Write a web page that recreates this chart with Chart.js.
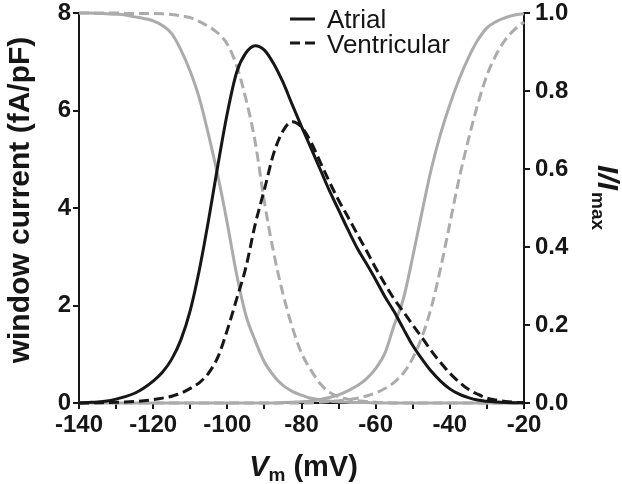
<!DOCTYPE html>
<html>
<head>
<meta charset="utf-8">
<script src="https://cdn.jsdelivr.net/npm/chart.js@4.4.1/dist/chart.umd.min.js"></script>
<style>
  html, body { margin: 0; padding: 0; background: #fff; }
  #wrap { width: 622px; height: 484px; }
</style>
</head>
<body>
<div id="wrap"><canvas id="windowChart"></canvas></div>
<script>
// membrane potential (mV)
const voltage = [
  -140, -137.5, -135, -132.5, -130, -127.5, -125, -122.5, -120, -117.5,
  -115, -112.5, -110, -107.5, -105, -102.5, -100, -97.5, -95, -92.5,
  -90, -87.5, -85, -82.5, -80, -77.5, -75, -72.5, -70, -67.5,
  -65, -62.5, -60, -57.5, -55, -52.5, -50, -47.5, -45, -42.5,
  -40, -37.5, -35, -32.5, -30, -27.5, -25, -22.5, -20
];

// window current (fA/pF), left axis
const atrialWindow = [
  0.00, 0.01, 0.02, 0.04, 0.08, 0.13, 0.20, 0.31, 0.45, 0.63,
  0.90, 1.30, 1.90, 2.75, 3.78, 4.90, 5.95, 6.78, 7.18, 7.33,
  7.24, 6.96, 6.58, 6.12, 5.67, 5.24, 4.80, 4.36, 3.96, 3.56,
  3.18, 2.86, 2.53, 2.18, 1.87, 1.52, 1.18, 0.90, 0.65, 0.45,
  0.29, 0.18, 0.11, 0.06, 0.035, 0.02, 0.01, 0.005, 0.002
];
const ventricularWindow = [
  0.00, 0.00, 0.005, 0.01, 0.015, 0.02, 0.03, 0.045, 0.07, 0.10,
  0.14, 0.20, 0.30, 0.42, 0.62, 0.95, 1.50, 2.13, 2.78, 3.66,
  4.38, 5.12, 5.58, 5.77, 5.66, 5.36, 4.95, 4.54, 4.16, 3.82,
  3.47, 3.13, 2.77, 2.44, 2.13, 1.87, 1.60, 1.34, 1.07, 0.83,
  0.61, 0.43, 0.28, 0.18, 0.10, 0.06, 0.03, 0.015, 0.005
];

// I/Imax, right axis
const atrialInact = [
  1.0, 1.0, 0.999, 0.998, 0.997, 0.995, 0.99, 0.986, 0.98, 0.968,
  0.947, 0.905, 0.85, 0.78, 0.685, 0.58, 0.46, 0.33, 0.225, 0.16,
  0.105, 0.07, 0.045, 0.03, 0.02, 0.012, 0.008, 0.005, 0.003, 0.002,
  0.001, 0.001, 0, 0, 0, 0, 0, 0, 0, 0,
  0, 0, 0, 0, 0, 0, 0, 0, 0
];
const atrialAct = [
  0, 0, 0, 0, 0, 0, 0, 0, 0, 0,
  0, 0, 0, 0, 0, 0, 0, 0, 0, 0,
  0, 0, 0.001, 0.002, 0.003, 0.005, 0.009, 0.014, 0.021, 0.031,
  0.044, 0.062, 0.088, 0.128, 0.20, 0.268, 0.375, 0.49, 0.60, 0.69,
  0.765, 0.83, 0.885, 0.93, 0.962, 0.978, 0.988, 0.995, 0.998
];
const ventricularInact = [
  1.0, 1.0, 1.0, 1.0, 1.0, 0.999, 0.999, 0.999, 0.999, 0.998,
  0.996, 0.993, 0.988, 0.978, 0.965, 0.948, 0.92, 0.865, 0.78, 0.67,
  0.515, 0.385, 0.28, 0.195, 0.128, 0.085, 0.05, 0.028, 0.016, 0.01,
  0.006, 0.004, 0.002, 0.001, 0, 0, 0, 0, 0, 0,
  0, 0, 0, 0, 0, 0, 0, 0, 0
];
const ventricularAct = [
  0, 0, 0, 0, 0, 0, 0, 0, 0, 0,
  0, 0, 0, 0, 0, 0, 0, 0, 0, 0,
  0, 0, 0, 0, 0, 0, 0.002, 0.004, 0.006, 0.009,
  0.012, 0.018, 0.026, 0.037, 0.053, 0.077, 0.115, 0.17, 0.245, 0.345,
  0.46, 0.575, 0.675, 0.765, 0.84, 0.893, 0.932, 0.958, 0.977
];

const leftTicks = [0, 2, 4, 6, 8];
const rightTicks = [0, 0.2, 0.4, 0.6, 0.8, 1.0];

const INK = '#161616';
const GREY = '#ababab';
const FONT = '"Liberation Sans", Arial, Helvetica, sans-serif';

const pts = arr => voltage.map((v, i) => ({ x: v, y: arr[i] }));

function curve(label, arr, axis, color, dashed) {
  return {
    label,
    data: pts(arr),
    yAxisID: axis,
    borderColor: color,
    borderWidth: 3,
    borderDash: dashed ? [10, 5] : [],
    pointRadius: 0,
    cubicInterpolationMode: 'monotone',
    fill: false,
    clip: false
  };
}

// axis titles and the little legend
const decorations = {
  id: 'decorations',
  afterDraw(chart) {
    const ctx = chart.ctx;
    const area = chart.chartArea;
    ctx.save();
    ctx.fillStyle = INK;
    ctx.textBaseline = 'alphabetic';

    // left title
    ctx.save();
    ctx.translate(29, (area.top + area.bottom) / 2 - 8);
    ctx.rotate(-Math.PI / 2);
    ctx.font = 'bold 30px ' + FONT;
    ctx.textAlign = 'center';
    ctx.fillText('window current (fA/pF)', 0, 0);
    ctx.restore();

    // bottom title: Vm (mV)
    ctx.textAlign = 'left';
    const big = 29, small = 19;
    ctx.font = 'italic bold ' + big + 'px ' + FONT;
    const wV = ctx.measureText('V').width;
    ctx.font = 'bold ' + small + 'px ' + FONT;
    const wm = ctx.measureText('m').width;
    ctx.font = 'bold ' + big + 'px ' + FONT;
    const wRest = ctx.measureText(' (mV)').width;
    let x = (area.left + area.right) / 2 + 2 - (wV + wm + wRest) / 2;
    const base = 476;
    ctx.font = 'italic bold ' + big + 'px ' + FONT;
    ctx.fillText('V', x, base);
    x += wV;
    ctx.font = 'bold ' + small + 'px ' + FONT;
    ctx.fillText('m', x, base + 5);
    x += wm;
    ctx.font = 'bold ' + big + 'px ' + FONT;
    ctx.fillText(' (mV)', x, base);

    // right title: I/Imax
    ctx.save();
    ctx.translate(598, 165);
    ctx.rotate(Math.PI / 2);
    ctx.font = 'italic bold 30px ' + FONT;
    ctx.fillText('I/I', 0, 0);
    const wI = ctx.measureText('I/I').width;
    ctx.font = 'bold ' + small + 'px ' + FONT;
    ctx.fillText('max', wI + 2, 6);
    ctx.restore();

    // legend
    ctx.strokeStyle = INK;
    ctx.lineWidth = 3;
    ctx.beginPath();
    ctx.moveTo(290, 19); ctx.lineTo(315, 19);
    ctx.stroke();
    ctx.setLineDash([10, 5]);
    ctx.beginPath();
    ctx.moveTo(290, 43); ctx.lineTo(315, 43);
    ctx.stroke();
    ctx.setLineDash([]);
    ctx.font = '26px ' + FONT;
    ctx.fillText('Atrial', 327, 28);
    ctx.fillText('Ventricular', 327, 53);

    ctx.restore();
  }
};

const axisLook = {
  grid: { drawOnChartArea: false, drawTicks: true, tickLength: 6, color: INK, lineWidth: 2 },
  border: { display: true, color: INK, width: 2 }
};

new Chart(document.getElementById('windowChart'), {
  type: 'line',
  data: {
    datasets: [
      curve('Atrial', atrialWindow, 'y', INK, false),
      curve('Ventricular', ventricularWindow, 'y', INK, true),
      curve('Atrial inactivation', atrialInact, 'y1', GREY, false),
      curve('Atrial activation', atrialAct, 'y1', GREY, false),
      curve('Ventricular inactivation', ventricularInact, 'y1', GREY, true),
      curve('Ventricular activation', ventricularAct, 'y1', GREY, true)
    ]
  },
  options: {
    responsive: true,
    maintainAspectRatio: false,
    animation: false,
    devicePixelRatio: 1,
    layout: { padding: { top: 13, left: 0, right: 0, bottom: 0 } },
    plugins: {
      legend: { display: false },
      tooltip: { enabled: false }
    },
    scales: {
      x: {
        type: 'linear',
        min: -140,
        max: -20,
        ...axisLook,
        ticks: {
          stepSize: 10,
          autoSkip: false,
          maxRotation: 0,
          padding: 2,
          color: INK,
          font: { family: FONT, size: 24, weight: 'bold' },
          callback: v => (v % 20 === 0 ? String(v) : '')
        },
        afterFit: s => { s.height = 81; s.paddingLeft = 0; s.paddingRight = 0; }
      },
      y: {
        position: 'left',
        min: 0,
        max: 8,
        ...axisLook,
        afterBuildTicks: s => { s.ticks = leftTicks.map(v => ({ value: v })); },
        ticks: {
          padding: 2,
          color: INK,
          font: { family: FONT, size: 24, weight: 'bold' },
          callback: v => String(v)
        },
        afterFit: s => { s.width = 79; s.paddingTop = 0; s.paddingBottom = 0; }
      },
      y1: {
        position: 'right',
        min: 0,
        max: 1,
        ...axisLook,
        afterBuildTicks: s => { s.ticks = rightTicks.map(v => ({ value: v })); },
        ticks: {
          padding: 5,
          color: INK,
          font: { family: FONT, size: 24, weight: 'bold' },
          callback: v => v.toFixed(1)
        },
        afterFit: s => { s.width = 98; s.paddingTop = 0; s.paddingBottom = 0; }
      }
    }
  },
  plugins: [decorations]
});
</script>
</body>
</html>
